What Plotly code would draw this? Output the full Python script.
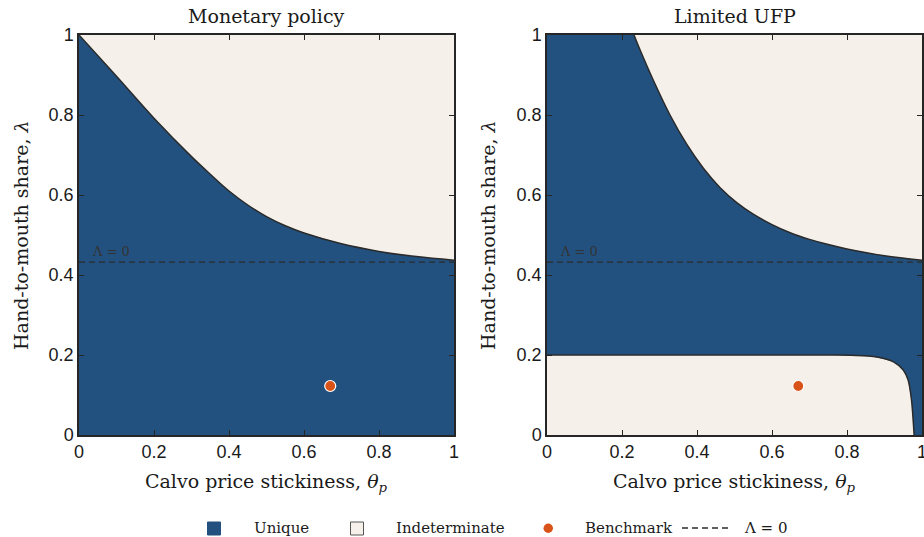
import plotly.graph_objects as go

# ---- data ----
tick_vals = [0, 0.2, 0.4, 0.6, 0.8, 1]
tick_text = ["0", "0.2", "0.4", "0.6", "0.8", "1"]

# Monetary policy: determinacy frontier (unique below)
mp_theta = [0.0, 0.1, 0.2, 0.3, 0.35, 0.4, 0.45, 0.5, 0.55, 0.6, 0.7, 0.8, 0.9, 1.0]
mp_lambda = [1.0, 0.897, 0.792, 0.696, 0.652, 0.61, 0.575, 0.546, 0.523, 0.505, 0.478, 0.459, 0.446, 0.437]

# Limited UFP: upper frontier
ufp_up_theta = [0.232, 0.248, 0.2835, 0.328, 0.3725, 0.417, 0.461, 0.506, 0.55, 0.6, 0.65, 0.7, 0.75, 0.8, 0.9, 1.0]
ufp_up_lambda = [1.0, 0.963, 0.887, 0.800, 0.727, 0.667, 0.619, 0.581, 0.552, 0.526, 0.505, 0.489, 0.476,
                 0.465, 0.448, 0.437]
# Limited UFP: lower frontier
ufp_lo_theta = [0.0, 0.3, 0.6, 0.76, 0.87, 0.924, 0.95, 0.963, 0.972, 0.979]
ufp_lo_lambda = [0.2, 0.2, 0.2, 0.2, 0.196, 0.183, 0.1625, 0.1375, 0.0875, 0.0]

bench_theta = [0.67]
bench_lambda = [0.1225]
lambda0_level = 0.432

BLUE = "#23517F"
CREAM = "#F5F0E9"
ORANGE = "#D95319"
EDGE = "#2b2b2b"
SERIF = "DejaVu Serif"
SANS = "Liberation Sans"

fig = go.Figure()

# ----- left panel -----
fig.add_trace(go.Scatter(x=[0] + mp_theta + [1], y=[0] + mp_lambda + [0],
                         fill="toself", fillcolor=BLUE, mode="none",
                         xaxis="x", yaxis="y", hoverinfo="skip", showlegend=False))
fig.add_trace(go.Scatter(x=mp_theta, y=mp_lambda, mode="lines",
                         line=dict(color=EDGE, width=1.5, shape="spline", smoothing=1.0),
                         xaxis="x", yaxis="y", showlegend=False))
# ----- right panel -----
rx = [0] + ufp_up_theta + [1, 1] + ufp_lo_theta[::-1]
ry = [1] + ufp_up_lambda + [0.437, 0] + ufp_lo_lambda[::-1]
fig.add_trace(go.Scatter(x=rx, y=ry, fill="toself", fillcolor=BLUE, mode="none",
                         xaxis="x2", yaxis="y2", hoverinfo="skip", showlegend=False))
fig.add_trace(go.Scatter(x=ufp_up_theta, y=ufp_up_lambda, mode="lines",
                         line=dict(color=EDGE, width=1.5, shape="spline", smoothing=1.0),
                         xaxis="x2", yaxis="y2", showlegend=False))
fig.add_trace(go.Scatter(x=ufp_lo_theta, y=ufp_lo_lambda, mode="lines",
                         line=dict(color=EDGE, width=1.5, shape="spline", smoothing=0.8),
                         xaxis="x2", yaxis="y2", showlegend=False))

for xa, ya in [("x", "y"), ("x2", "y2")]:
    fig.add_trace(go.Scatter(x=[0, 1], y=[lambda0_level, lambda0_level], mode="lines",
                             line=dict(color=EDGE, width=1.3, dash="6px,4px"),
                             xaxis=xa, yaxis=ya, showlegend=False))
    fig.add_trace(go.Scatter(x=bench_theta, y=bench_lambda, mode="markers",
                             marker=dict(color=ORANGE, size=11, line=dict(color="white", width=1.2)),
                             xaxis=xa, yaxis=ya, showlegend=False))

axis_common = dict(range=[0, 1], tickvals=tick_vals, ticktext=tick_text, ticks="inside", ticklen=5,
                   tickcolor="#262626", showline=True, linecolor="#262626", linewidth=1.5, mirror="allticks",
                   showgrid=False, zeroline=False, tickfont=dict(family=SANS, size=18, color="#1a1a1a"),
                   fixedrange=True, automargin=False, ticklabeloverflow="allow")

H = 537.0
W = 924.0
ydom = [1 - 435 / H, 1 - 35 / H]
fig.update_layout(
    width=924, height=537, margin=dict(l=0, r=0, t=0, b=0, autoexpand=False),
    paper_bgcolor="white", plot_bgcolor=CREAM, showlegend=False,
    xaxis=dict(domain=[79 / W, 454 / W], anchor="y", **axis_common),
    yaxis=dict(domain=ydom, anchor="x", **axis_common),
    xaxis2=dict(domain=[547 / W, 922 / W], anchor="y2", **axis_common),
    yaxis2=dict(domain=ydom, anchor="x2", **axis_common),
)

ann = []
def txt(x, y, s, size, xanchor="center", color="#1a1a1a", angle=0, xr="paper", yr="paper"):
    ann.append(dict(x=x, y=y, text=s, showarrow=False, font=dict(family=SERIF, size=size, color=color),
                    xanchor=xanchor, yanchor="middle", textangle=angle, xref=xr, yref=yr))

# titles
txt(266.5 / W, 1 - 16 / H, "Monetary policy", 19)
txt(734.5 / W, 1 - 16 / H, "Limited UFP", 19)
# x labels
xl = "Calvo price stickiness, <i>θ</i><sub><i>p</i></sub>"
txt(266.5 / W, 1 - 482 / H, xl, 19)
txt(734.5 / W, 1 - 482 / H, xl, 19)
# y labels
yl = "Hand-to-mouth share, <i>λ</i>"
txt(21 / W, 1 - 235 / H, yl, 19, angle=-90)
txt(488 / W, 1 - 235 / H, yl, 19, angle=-90)
# Lambda = 0 labels inside
txt(0.03, 0.458, "Λ = 0", 13, xanchor="left", color="#333333", xr="x", yr="y")
txt(0.03, 0.458, "Λ = 0", 13, xanchor="left", color="#333333", xr="x2", yr="y2")

# legend
ly = 1 - 528 / H
txt(252 / W, ly, "Unique", 15, xanchor="left")
txt(394 / W, ly, "Indeterminate", 15, xanchor="left")
txt(583 / W, ly, "Benchmark", 15, xanchor="left")
txt(742 / W, ly, "Λ = 0", 15, xanchor="left")
fig.update_layout(annotations=ann)

shapes = [
    dict(type="rect", xref="paper", yref="paper", x0=207.5 / W, x1=220.5 / W, y0=1 - 535 / H, y1=1 - 522 / H,
         fillcolor=BLUE, line=dict(color=BLUE, width=1)),
    dict(type="rect", xref="paper", yref="paper", x0=350.5 / W, x1=363.5 / W, y0=1 - 535 / H, y1=1 - 522 / H,
         fillcolor=CREAM, line=dict(color="#555555", width=1)),
    dict(type="circle", xref="paper", yref="paper", x0=543.5 / W, x1=553 / W, y0=1 - 533 / H, y1=1 - 523.5 / H,
         fillcolor=ORANGE, line=dict(color=ORANGE, width=0)),
    dict(type="line", xref="paper", yref="paper", x0=682 / W, x1=728 / W, y0=ly, y1=ly,
         line=dict(color=EDGE, width=1.5, dash="6px,4px")),
]
fig.update_layout(shapes=shapes)

fig.write_html("out.html")
